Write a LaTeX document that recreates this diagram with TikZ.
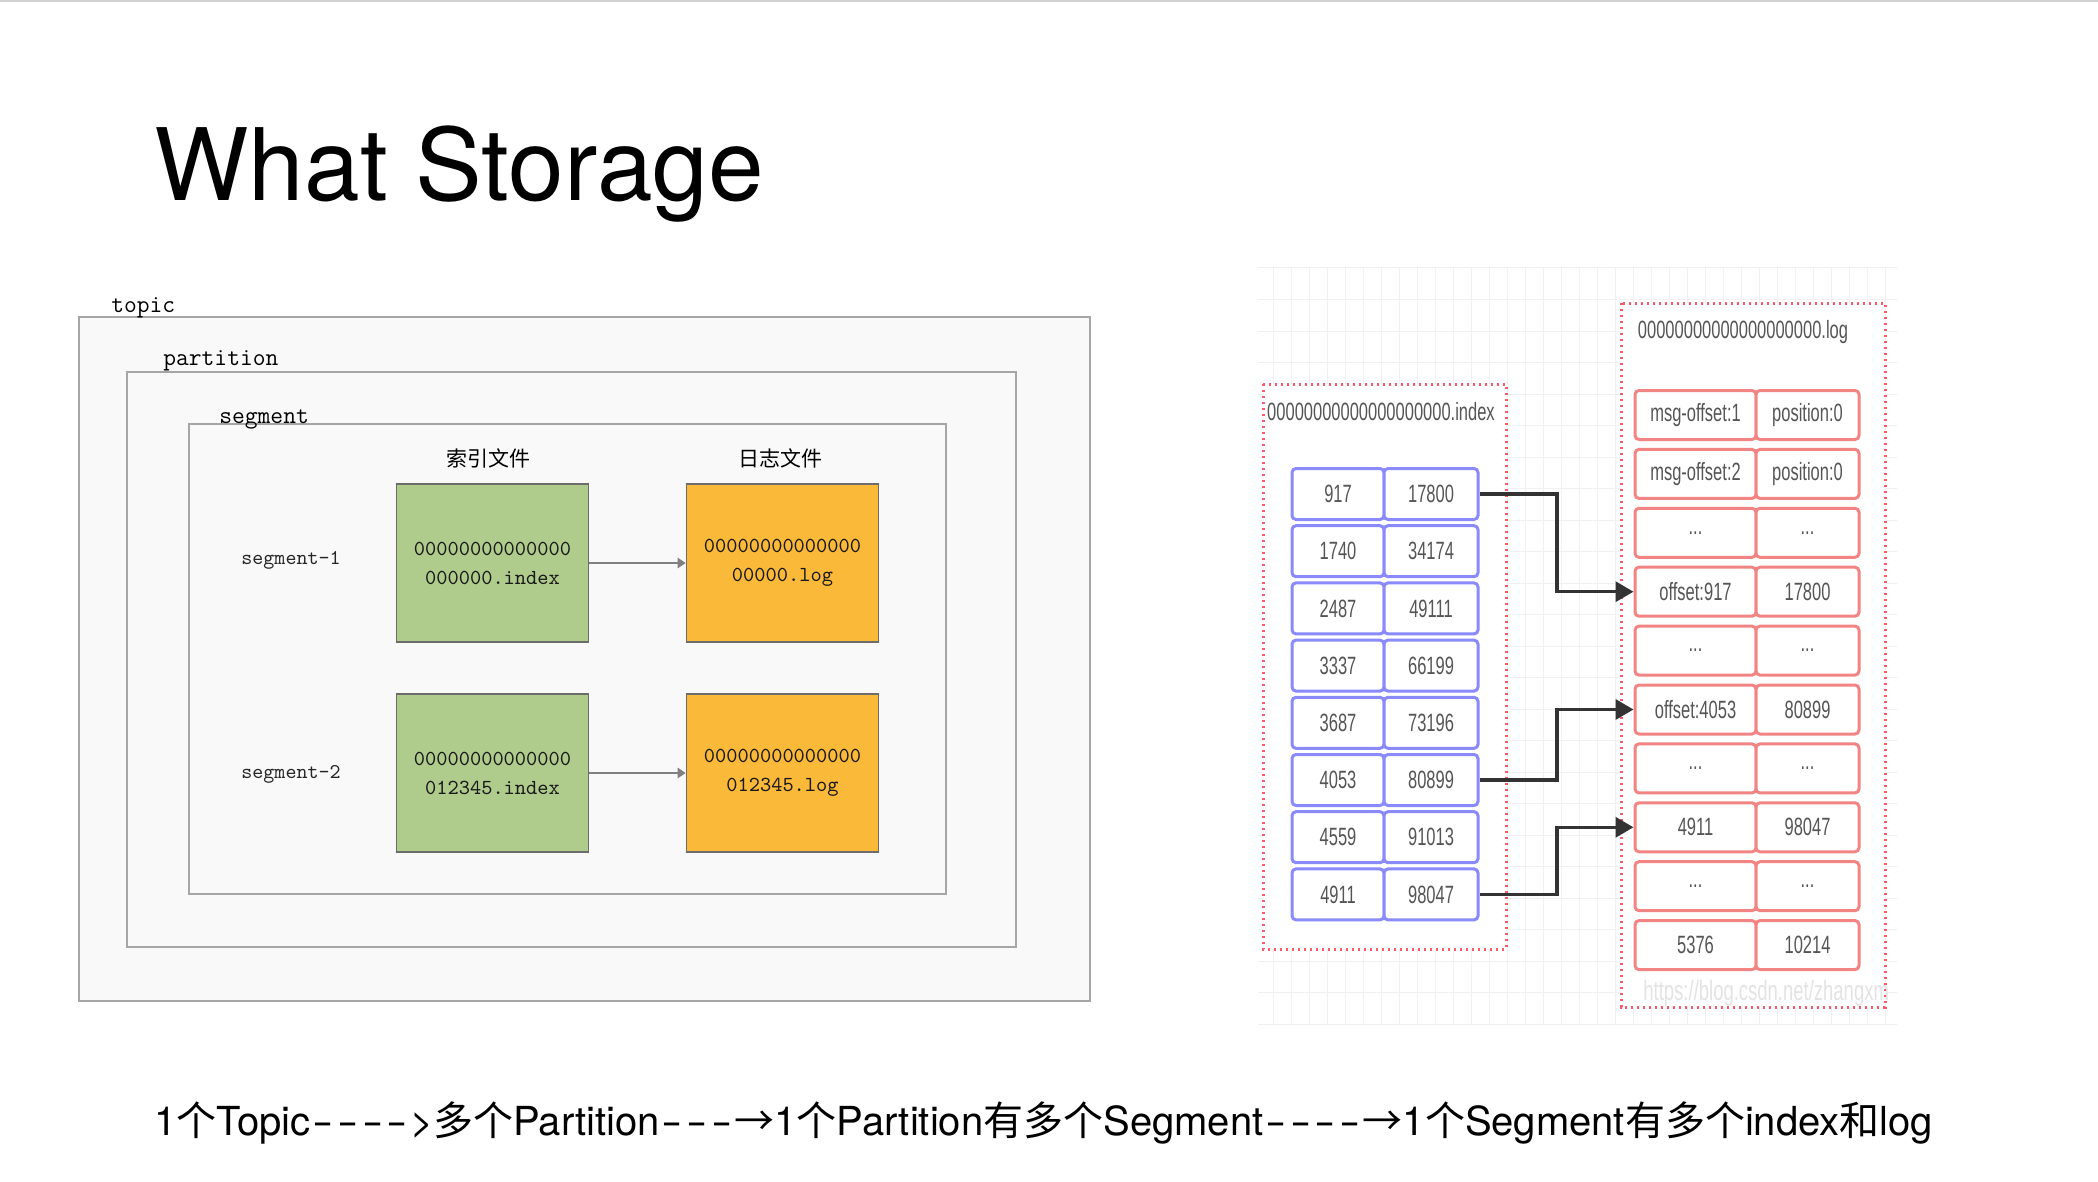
\documentclass[tikz,border=0pt]{standalone}
\usepackage{fontspec}
\setmainfont{TeX Gyre Heros}
\newfontfamily\cjk{Noto Sans CJK SC}
\newfontfamily\narrow[FakeStretch=0.66]{Liberation Sans}
\usetikzlibrary{arrows.meta}
\definecolor{boxgreen}{RGB}{176,204,141}
\definecolor{boxorange}{RGB}{251,185,58}
\definecolor{idxblue}{RGB}{138,138,250}
\definecolor{logred}{RGB}{242,132,132}
\definecolor{dotred}{RGB}{250,90,105}
\definecolor{celltext}{RGB}{85,85,85}
\newcommand{\zh}[1]{{\cjk #1}}
\newcommand{\etc}{...}
\newcommand{\dsh}{\makebox[0.62em]{\scalebox{1.6}[1]{-}}}

\begin{document}
\begin{tikzpicture}[x=0.5pt,y=-0.5pt,
	cont/.style={draw=gray!70, line width=1pt, fill=gray!5},
	contlabel/.style={anchor=west, font=\ttfamily\fontsize{12.4}{12.4}\selectfont},
	seglabel/.style={anchor=west, font=\ttfamily\fontsize{10.5}{10.5}\selectfont, text=black!85},
	filebox/.style={draw=gray!85!black, line width=0.8pt, minimum width=96pt, minimum height=79pt, align=center, font=\ttfamily\fontsize{10.7}{14.5}\selectfont, text=black!90},
	smallarrow/.style={draw=gray, line width=1pt, -{Triangle[length=4pt,width=5pt]}},
	gridline/.style={draw=gray!12, line width=0.5pt},
	dotbox/.style={draw=dotred, line width=1.5pt, dash pattern=on 1.2pt off 1.8pt, fill=white},
	idxcell/.style={draw=idxblue, line width=1.5pt, rounded corners=2pt, fill=white, minimum height=25.5pt, text=celltext, font=\narrow\fontsize{12.5}{12.5}\selectfont},
	logcell/.style={draw=logred, line width=1.5pt, rounded corners=2pt, fill=white, minimum height=24.5pt, text=celltext, font=\narrow\fontsize{12.5}{12.5}\selectfont},
	linkarrow/.style={draw=black!80, line width=1.75pt, -{Triangle[length=9pt,width=10pt]}}]
	\tikzstyle{every node}+=[inner sep=0pt]
	\useasboundingbox (0,0) rectangle (2098,1182);
	\draw [gray!35, line width=1pt] (0,1) -- (2098,1);
	\node [anchor=base west, font=\fontsize{50}{50}\selectfont] (title) at (154,201) {What Storage};

	\draw [cont] (79,317) rectangle (1090,1001);
	\node [contlabel] (topic) at (111,308) {topic};
	\draw [cont] (127,372) rectangle (1016,947);
	\node [contlabel] (partition) at (163,361) {partition};
	\draw [cont] (189,424) rectangle (946,894);
	\node [contlabel] (segment) at (219,419) {segment};
	\node [font=\cjk\fontsize{10.5}{10.5}\selectfont] (idxhead) at (488,458) {索引文件};
	\node [font=\cjk\fontsize{10.5}{10.5}\selectfont] (loghead) at (780,458) {日志文件};
	\node [seglabel] (seg1) at (241,560) {segment-1};
	\node [seglabel] (seg2) at (241,774) {segment-2};
	\node [filebox, fill=boxgreen] (idx1) at (492.5,563) {00000000000000\\000000.index};
	\node [filebox, fill=boxorange] (log1) at (782.5,563) {00000000000000\\00000.log};
	\node [filebox, fill=boxgreen] (idx2) at (492.5,773) {00000000000000\\012345.index};
	\node [filebox, fill=boxorange] (log2) at (782.5,773) {00000000000000\\012345.log};
	\draw [smallarrow] (idx1) -- (log1);
	\draw [smallarrow] (idx2) -- (log2);

	\begin{scope}
		\clip (1258,268) rectangle (1897,1024);
		\foreach \x in {1273,1291,...,1897} \draw [gridline] (\x,268) -- (\x,1024);
		\foreach \y in {268,299.5,...,1025} \draw [gridline] (1258,\y) -- (1897,\y);
	\end{scope}
	\draw [dotbox] (1263,384) rectangle (1506,949);
	\draw [dotbox] (1621,303) rectangle (1885,1007);
	\node [font=\narrow\fontsize{12.5}{12.5}\selectfont, text=celltext] (idxname) at (1381,412) {00000000000000000000.index};
	\node [font=\narrow\fontsize{12.5}{12.5}\selectfont, text=celltext] (logname) at (1743,332) {00000000000000000000.log};
	\foreach \a/\b [count=\i] in {917/17800,1740/34174,2487/49111,3337/66199,3687/73196,4053/80899,4559/91013,4911/98047} {
		\node [idxcell, minimum width=46pt] (il\i) at (1338,{494+57.2*(\i-1)}) {\a};
		\node [idxcell, minimum width=47pt] (ir\i) at (1431,{494+57.2*(\i-1)}) {\b};
	}
	\foreach \a/\b [count=\i] in {msg-offset:1/position:0,msg-offset:2/position:0,\etc/\etc,offset:917/17800,\etc/\etc,offset:4053/80899,\etc/\etc,4911/98047,\etc/\etc,5376/10214} {
		\node [logcell, minimum width=60.5pt] (ll\i) at (1695.5,{415+58.9*(\i-1)}) {\a};
		\node [logcell, minimum width=51.5pt] (lr\i) at (1807.5,{415+58.9*(\i-1)}) {\b};
	}
	\coordinate (bend) at (1557,0);
	\draw [linkarrow] (ir1.east) -- (bend |- ir1.east) |- (ll4.west);
	\draw [linkarrow] (ir6.east) -- (bend |- ir6.east) |- (ll6.west);
	\draw [linkarrow] (ir8.east) -- (bend |- ir8.east) |- (ll8.west);
	\begin{scope}
		\clip (1258,268) rectangle (1897,1024);
		\node [anchor=west, font=\narrow\fontsize{14}{14}\selectfont, text=gray!22] (mark) at (1643,993) {https://blog.csdn.net/zhangxm};
	\end{scope}

	\node [anchor=base west, font=\fontsize{20}{20}\selectfont] (caption) at (154,1135) {1\zh{个}Topic\dsh\dsh\dsh\dsh>\zh{多个}Partition\dsh\dsh\dsh\zh{→}1\zh{个}Partition\zh{有多个}Segment\dsh\dsh\dsh\dsh\zh{→}1\zh{个}Segment\zh{有多个}index\zh{和}log};
\end{tikzpicture}
\end{document}
